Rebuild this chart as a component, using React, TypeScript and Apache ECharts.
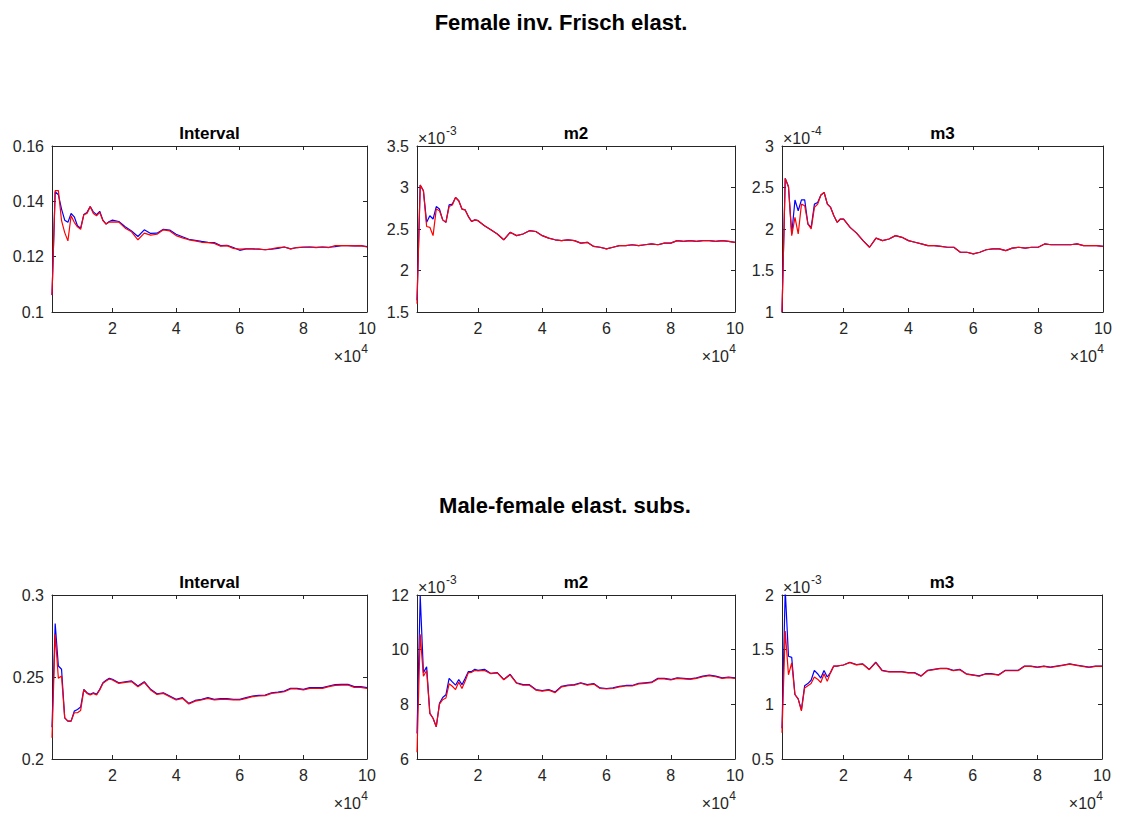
import React, { useEffect, useRef } from "react";
import * as echarts from "echarts";

// x positions (draw number)
const xs = [
  1000, 2000, 3000, 4000, 5000, 6000, 7000, 8000, 9000, 10000,
  11000, 12000, 13000, 14000, 15000, 16000, 17000, 18000, 19000, 20000,
  22000, 24000, 26000, 28000, 30000, 32000, 34000, 36000, 38000, 40000,
  42000, 44000, 46000, 48000, 50000, 52000, 54000, 56000, 58000, 60000,
  62000, 64000, 66000, 68000, 70000, 72000, 74000, 76000, 78000, 80000,
  82000, 84000, 86000, 88000, 90000, 92000, 94000, 96000, 98000, 100000,
];
const xTicks = [20000, 40000, 60000, 80000, 100000];

// Female inv. Frisch elast. — Interval
const femIntBlue = [
  0.1061, 0.1435, 0.1424, 0.1372, 0.1332, 0.1324, 0.1356, 0.1344, 0.1312, 0.1303,
  0.1352, 0.136, 0.1381, 0.1362, 0.1352, 0.1364, 0.1332, 0.1318, 0.1327, 0.1332,
  0.1327, 0.1308, 0.1293, 0.1273, 0.1297, 0.1284, 0.1285, 0.1299, 0.1296, 0.1281,
  0.1272, 0.1263, 0.1259, 0.1255, 0.1252, 0.1251, 0.124, 0.1241, 0.1233, 0.1223,
  0.1228, 0.1228, 0.1227, 0.1225, 0.1227, 0.123, 0.1235, 0.1228, 0.1233, 0.1234,
  0.1235, 0.1234, 0.1235, 0.1234, 0.1236, 0.124, 0.124, 0.1239, 0.124, 0.1236,
];
const femIntRed = [
  0.1061, 0.1439, 0.1439, 0.133, 0.1287, 0.1257, 0.1348, 0.1324, 0.1308, 0.1299,
  0.1352, 0.1356, 0.1381, 0.1356, 0.1348, 0.136, 0.133, 0.1318, 0.1325, 0.1326,
  0.1325, 0.1303, 0.129, 0.1261, 0.1285, 0.1278, 0.1281, 0.1297, 0.1293, 0.1276,
  0.1268, 0.1261, 0.1257, 0.1252, 0.1251, 0.1248, 0.1238, 0.124, 0.123, 0.1227,
  0.1228, 0.1228, 0.1227, 0.1225, 0.1228, 0.1233, 0.1235, 0.1228, 0.1233, 0.1235,
  0.1235, 0.1233, 0.1235, 0.1233, 0.124, 0.124, 0.124, 0.1239, 0.124, 0.1235,
];
// Female — m2 (x 10^-3)
const femM2Blue = [
  1.64, 3.03, 2.96, 2.58, 2.66, 2.62, 2.77, 2.74, 2.61, 2.58,
  2.79, 2.8, 2.88, 2.84, 2.74, 2.73, 2.65, 2.59, 2.61, 2.6,
  2.54, 2.49, 2.44, 2.37, 2.46, 2.42, 2.44, 2.48, 2.47, 2.42,
  2.39, 2.37, 2.36, 2.37, 2.36, 2.33, 2.34, 2.29, 2.28, 2.26,
  2.28, 2.3, 2.3, 2.31, 2.3, 2.31, 2.32, 2.31, 2.33, 2.33,
  2.36, 2.35, 2.36, 2.35, 2.36, 2.36, 2.35, 2.36, 2.35, 2.34,
];
const femM2Red = [
  1.6, 3.03, 2.96, 2.53, 2.52, 2.42, 2.74, 2.72, 2.61, 2.58,
  2.77, 2.79, 2.88, 2.84, 2.74, 2.73, 2.65, 2.59, 2.61, 2.6,
  2.54, 2.49, 2.44, 2.37, 2.46, 2.42, 2.44, 2.48, 2.47, 2.42,
  2.39, 2.37, 2.36, 2.37, 2.36, 2.33, 2.34, 2.29, 2.28, 2.26,
  2.28, 2.3, 2.3, 2.31, 2.3, 2.31, 2.32, 2.31, 2.33, 2.33,
  2.36, 2.35, 2.36, 2.35, 2.36, 2.36, 2.35, 2.36, 2.35, 2.34,
];
// Female — m3 (x 10^-4)
const femM3Blue = [
  1.0, 2.61, 2.51, 1.94, 2.35, 2.22, 2.35, 2.35, 2.06, 2.02,
  2.3, 2.32, 2.41, 2.44, 2.3, 2.26, 2.16, 2.08, 2.12, 2.12,
  2.02, 1.95, 1.86, 1.78, 1.89, 1.86, 1.88, 1.92, 1.9, 1.86,
  1.84, 1.82, 1.8, 1.8, 1.79, 1.78, 1.78, 1.72, 1.72, 1.7,
  1.72, 1.75, 1.76, 1.76, 1.74, 1.77, 1.78, 1.77, 1.78, 1.78,
  1.82, 1.81, 1.81, 1.81, 1.81, 1.82, 1.8, 1.8, 1.8, 1.79,
];
const femM3Red = [
  1.0, 2.61, 2.51, 1.92, 2.14, 1.94, 2.3, 2.28, 2.06, 2.0,
  2.26, 2.3, 2.41, 2.44, 2.3, 2.26, 2.16, 2.08, 2.12, 2.12,
  2.02, 1.95, 1.86, 1.78, 1.89, 1.86, 1.88, 1.92, 1.9, 1.86,
  1.84, 1.82, 1.8, 1.8, 1.79, 1.78, 1.78, 1.72, 1.72, 1.7,
  1.72, 1.75, 1.76, 1.76, 1.74, 1.77, 1.78, 1.77, 1.78, 1.78,
  1.82, 1.81, 1.81, 1.81, 1.81, 1.82, 1.8, 1.8, 1.8, 1.79,
];
// Male-female elast. subs. — Interval
const mfIntBlue = [
  0.2194, 0.2826, 0.2567, 0.2547, 0.2251, 0.2231, 0.2231, 0.2292, 0.2302, 0.2317,
  0.2425, 0.2404, 0.2394, 0.2404, 0.2394, 0.2425, 0.2465, 0.248, 0.2492, 0.2486,
  0.2465, 0.2471, 0.2476, 0.2445, 0.2471, 0.2425, 0.2398, 0.2404, 0.2384, 0.2364,
  0.2374, 0.2339, 0.2357, 0.2364, 0.2374, 0.2364, 0.2368, 0.2368, 0.2364, 0.2364,
  0.2374, 0.2384, 0.2388, 0.239, 0.2404, 0.2408, 0.2414, 0.2431, 0.2431, 0.2425,
  0.2435, 0.2435, 0.2435, 0.2445, 0.2453, 0.2455, 0.2455, 0.2441, 0.2441, 0.2435,
];
const mfIntRed = [
  0.2129, 0.2761, 0.2492, 0.2506, 0.2251, 0.2231, 0.2231, 0.2282, 0.2282, 0.2296,
  0.2421, 0.24, 0.239, 0.24, 0.239, 0.2421, 0.2461, 0.2476, 0.2488, 0.2482,
  0.2461, 0.2467, 0.2472, 0.2441, 0.2467, 0.2421, 0.2394, 0.24, 0.238, 0.236,
  0.237, 0.2335, 0.2353, 0.236, 0.237, 0.236, 0.2364, 0.2364, 0.236, 0.236,
  0.237, 0.238, 0.2384, 0.2386, 0.24, 0.2404, 0.241, 0.2427, 0.2427, 0.2421,
  0.2431, 0.2431, 0.2431, 0.2441, 0.2449, 0.2451, 0.2451, 0.2437, 0.2437, 0.2431,
];
// Male-female — m2 (x 10^-3)
const mfM2Blue = [
  6.93, 11.97, 9.16, 9.37, 7.67, 7.49, 7.18, 8.04, 8.25, 8.35,
  8.95, 8.82, 8.7, 8.91, 8.72, 8.95, 9.2, 9.2, 9.28, 9.24,
  9.28, 9.13, 9.16, 8.91, 9.1, 8.79, 8.72, 8.72, 8.54, 8.5,
  8.54, 8.45, 8.66, 8.7, 8.72, 8.79, 8.72, 8.76, 8.6, 8.58,
  8.6, 8.66, 8.69, 8.69, 8.77, 8.79, 8.81, 8.95, 8.95, 8.91,
  8.97, 8.95, 8.93, 8.97, 9.03, 9.07, 9.03, 8.97, 9.0, 8.97,
];
const mfM2Red = [
  6.25, 10.56, 9.03, 9.24, 7.67, 7.49, 7.18, 8.01, 8.17, 8.23,
  8.75, 8.66, 8.54, 8.82, 8.58, 8.85, 9.16, 9.17, 9.24, 9.22,
  9.24, 9.12, 9.15, 8.9, 9.08, 8.77, 8.7, 8.7, 8.52, 8.48,
  8.52, 8.43, 8.64, 8.68, 8.7, 8.77, 8.7, 8.74, 8.58, 8.56,
  8.58, 8.64, 8.67, 8.67, 8.75, 8.77, 8.79, 8.93, 8.93, 8.89,
  8.95, 8.93, 8.91, 8.95, 9.01, 9.05, 9.01, 8.95, 8.98, 8.95,
];
// Male-female — m3 (x 10^-3)
const mfM3Blue = [
  0.78, 2.05, 1.44, 1.43, 1.09, 1.05, 0.95, 1.17, 1.19, 1.22,
  1.31, 1.28, 1.24, 1.31, 1.25, 1.29, 1.35, 1.35, 1.355, 1.36,
  1.385, 1.364, 1.37, 1.32, 1.385, 1.31, 1.3, 1.3, 1.3, 1.29,
  1.29, 1.26, 1.31, 1.32, 1.33, 1.33, 1.31, 1.32, 1.28, 1.27,
  1.26, 1.28, 1.28, 1.27, 1.31, 1.31, 1.31, 1.35, 1.35, 1.34,
  1.35, 1.34, 1.35, 1.36, 1.37, 1.36, 1.35, 1.34, 1.35, 1.35,
];
const mfM3Red = [
  0.74, 1.67, 1.27, 1.38, 1.09, 1.05, 0.94, 1.15, 1.17, 1.19,
  1.25, 1.23, 1.2, 1.28, 1.21, 1.29, 1.35, 1.35, 1.355, 1.36,
  1.382, 1.361, 1.367, 1.317, 1.382, 1.307, 1.297, 1.297, 1.297, 1.287,
  1.287, 1.257, 1.307, 1.317, 1.327, 1.327, 1.307, 1.317, 1.277, 1.267,
  1.257, 1.277, 1.277, 1.267, 1.307, 1.307, 1.307, 1.347, 1.347, 1.337,
  1.347, 1.337, 1.347, 1.357, 1.367, 1.357, 1.347, 1.337, 1.347, 1.347,
];

const groupTitles = ["Female inv. Frisch elast.", "Male-female elast. subs."];
const panelTitles = ["Interval", "m2", "m3", "Interval", "m2", "m3"];
const yExponents = [null, "-3", "-4", null, "-3", "-3"];
const blueSeries = [femIntBlue, femM2Blue, femM3Blue, mfIntBlue, mfM2Blue, mfM3Blue];
const redSeries = [femIntRed, femM2Red, femM3Red, mfIntRed, mfM2Red, mfM3Red];
const yMin = [0.1, 1.5, 1, 0.2, 6, 0.5];
const yMax = [0.16, 3.5, 3, 0.3, 12, 2];
const yStep = [0.02, 0.5, 0.5, 0.05, 2, 0.5];

// layout (pixels)
const boxes = [
  { left: 52, top: 146, width: 315, height: 166 },
  { left: 417, top: 146, width: 318, height: 166 },
  { left: 782, top: 146, width: 321, height: 166 },
  { left: 52, top: 595, width: 315, height: 164 },
  { left: 417, top: 595, width: 318, height: 164 },
  { left: 782, top: 595, width: 320, height: 164 },
];

const FONT = "'Liberation Sans', Arial, Helvetica, sans-serif";
const AX = "#262626";

function buildOption() {
  const grid: any[] = [];
  const xAxis: any[] = [];
  const yAxis: any[] = [];
  const series: any[] = [];
  const graphic: any[] = [];
  const lineStyle = { color: AX, width: 1 };

  boxes.forEach((b, i) => {
    grid.push({ left: b.left, top: b.top, width: b.width, height: b.height, containLabel: false });
    const xBase = {
      gridIndex: i,
      type: "value",
      min: 1000,
      max: 100000,
      splitLine: { show: false },
      axisLine: { show: true, onZero: false, lineStyle },
      axisTick: { show: true, inside: true, length: 4, customValues: xTicks, lineStyle },
    };
    xAxis.push({
      ...xBase,
      position: "bottom",
      axisLabel: {
        show: true,
        customValues: xTicks,
        formatter: (v: number) => String(v / 10000),
        color: AX,
        fontSize: 16,
        fontFamily: FONT,
        margin: 8,
      },
    });
    xAxis.push({ ...xBase, position: "top", axisLabel: { show: false } });
    const yBase = {
      gridIndex: i,
      type: "value",
      min: yMin[i],
      max: yMax[i],
      interval: yStep[i],
      splitLine: { show: false },
      axisLine: { show: true, onZero: false, lineStyle },
      axisTick: { show: true, inside: true, length: 4, lineStyle },
    };
    yAxis.push({
      ...yBase,
      position: "left",
      axisLabel: { show: true, color: AX, fontSize: 16, fontFamily: FONT, margin: 8 },
    });
    yAxis.push({ ...yBase, position: "right", axisLabel: { show: false } });

    series.push({
      type: "line",
      xAxisIndex: 2 * i,
      yAxisIndex: 2 * i,
      data: xs.map((x, k) => [x, blueSeries[i][k]]),
      showSymbol: false,
      symbol: "none",
      lineStyle: { color: "#0000ff", width: 1.2 },
      clip: true,
    });
    series.push({
      type: "line",
      xAxisIndex: 2 * i,
      yAxisIndex: 2 * i,
      data: xs.map((x, k) => [x, redSeries[i][k]]),
      showSymbol: false,
      symbol: "none",
      lineStyle: { color: "#ff0000", width: 1.2 },
      clip: true,
    });

    // panel title
    graphic.push({
      type: "text",
      x: b.left + b.width / 2,
      y: b.top - 13,
      style: {
        text: panelTitles[i],
        fontSize: 17,
        fontWeight: "bold",
        fontFamily: FONT,
        fill: "#000",
        textAlign: "center",
        textVerticalAlign: "middle",
      },
    });
    // y exponent
    const ye = yExponents[i];
    if (ye) {
      graphic.push({
        type: "text",
        x: b.left + 1,
        y: b.top - 8,
        style: { text: "×10", fontSize: 16, fontFamily: FONT, fill: AX, textAlign: "left", textVerticalAlign: "middle" },
      });
      graphic.push({
        type: "text",
        x: b.left + 29,
        y: b.top - 15,
        style: { text: ye, fontSize: 12, fontFamily: FONT, fill: AX, textAlign: "left", textVerticalAlign: "middle" },
      });
    }
    // x exponent
    const right = b.left + b.width;
    const by = b.top + b.height + 44;
    graphic.push({
      type: "text",
      x: right - 6,
      y: by,
      style: { text: "×10", fontSize: 16, fontFamily: FONT, fill: AX, textAlign: "right", textVerticalAlign: "middle" },
    });
    graphic.push({
      type: "text",
      x: right + 1,
      y: by - 7,
      style: { text: "4", fontSize: 12, fontFamily: FONT, fill: AX, textAlign: "right", textVerticalAlign: "middle" },
    });
  });

  graphic.push({
    type: "text",
    x: 561,
    y: 22,
    style: {
      text: groupTitles[0],
      fontSize: 22,
      fontWeight: "bold",
      fontFamily: FONT,
      fill: "#000",
      textAlign: "center",
      textVerticalAlign: "middle",
    },
  });
  graphic.push({
    type: "text",
    x: 565,
    y: 505,
    style: {
      text: groupTitles[1],
      fontSize: 22,
      fontWeight: "bold",
      fontFamily: FONT,
      fill: "#000",
      textAlign: "center",
      textVerticalAlign: "middle",
    },
  });

  return {
    animation: false,
    backgroundColor: "#ffffff",
    grid,
    xAxis,
    yAxis,
    series,
    graphic,
  };
}

export default function App() {
  const ref = useRef<HTMLDivElement>(null);
  useEffect(() => {
    if (!ref.current) return;
    const chart = echarts.init(ref.current, null, { renderer: "svg" });
    chart.setOption(buildOption() as any);
    return () => chart.dispose();
  }, []);
  return (
    <div
      ref={ref}
      style={{ position: "absolute", left: 0, top: 0, width: 1128, height: 816, background: "#fff" }}
    />
  );
}
